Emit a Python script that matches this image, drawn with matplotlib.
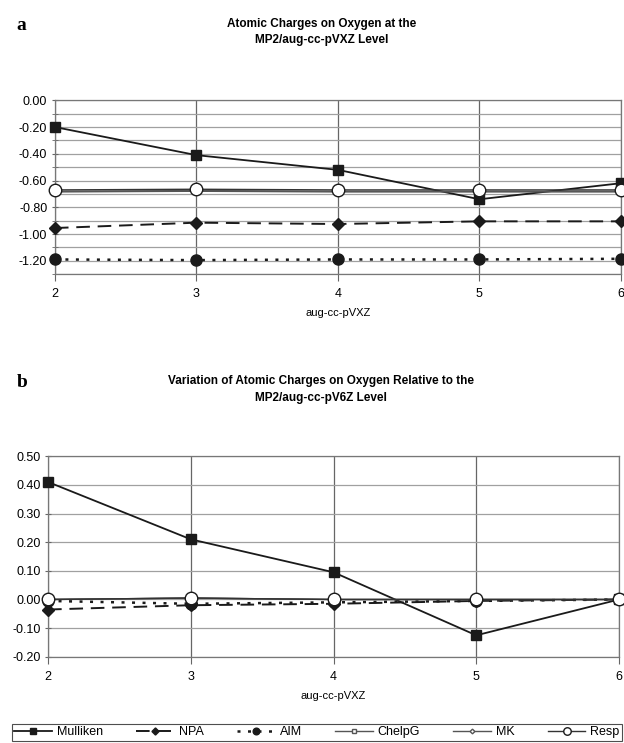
import matplotlib
matplotlib.use("Agg")
import matplotlib.pyplot as plt
from matplotlib.ticker import MultipleLocator

plt.rcParams["font.family"] = ["Liberation Sans", "DejaVu Sans"]

basis = [2, 3, 4, 5, 6]

# panel a: atomic charges on oxygen
mulliken_a = [-0.20, -0.41, -0.52, -0.74, -0.62]
npa_a = [-0.955, -0.915, -0.925, -0.905, -0.905]
aim_a = [-1.19, -1.195, -1.19, -1.19, -1.185]
chelpg_a = [-0.685, -0.68, -0.685, -0.685, -0.685]
mk_a = [-0.68, -0.675, -0.68, -0.68, -0.68]
resp_a = [-0.67, -0.665, -0.67, -0.67, -0.67]

# panel b: variation relative to aug-cc-pV6Z
mulliken_b = [0.41, 0.21, 0.095, -0.125, 0.0]
npa_b = [-0.035, -0.02, -0.015, -0.005, 0.0]
aim_b = [-0.005, -0.015, -0.01, -0.005, 0.0]
chelpg_b = [0.0, 0.005, 0.0, 0.0, 0.0]
mk_b = [0.0, 0.005, 0.0, 0.0, 0.0]
resp_b = [0.0, 0.005, 0.0, 0.0, 0.0]

labels = ["Mulliken", "NPA", "AIM", "ChelpG", "MK", "Resp"]

styles = [
    dict(color="#1a1a1a", lw=1.3, ls="-", marker="s", ms=7, mfc="#1a1a1a"),
    dict(color="#1a1a1a", lw=1.4, ls=(0, (7, 4)), marker="D", ms=6, mfc="#1a1a1a"),
    dict(color="#1a1a1a", lw=1.8, ls=(0, (1.2, 3)), marker="o", ms=8, mfc="#1a1a1a"),
    dict(color="#555555", lw=1.0, ls="-", marker="s", ms=4, mfc="white"),
    dict(color="#555555", lw=1.0, ls="-", marker="D", ms=4, mfc="white"),
    dict(color="#333333", lw=1.0, ls="-", marker="o", ms=9, mfc="white", mec="#1a1a1a"),
]


def draw(ax, series, ymin, ymax):
    lines = []
    for vals, lab, st in zip(series, labels, styles):
        (ln,) = ax.plot(basis, vals, label=lab, clip_on=False, zorder=3, **st)
        lines.append(ln)
    ax.set_xlim(2, 6)
    ax.set_ylim(ymin, ymax)
    ax.set_xticks(basis)
    ax.yaxis.set_minor_locator(MultipleLocator(0.1))
    ax.yaxis.grid(True, which="both", color="#a0a0a0", lw=0.9)
    ax.xaxis.grid(True, color="#666666", lw=0.9)
    ax.tick_params(axis="x", length=5, color="#666666", labelsize=9, pad=5)
    ax.tick_params(axis="y", which="both", length=5, direction="inout",
                   labelsize=9, color="#666666", pad=3)
    ax.set_xlabel("aug-cc-pVXZ", fontsize=8, labelpad=6)
    for sp in ax.spines.values():
        sp.set_color("#777777")
        sp.set_linewidth(0.9)
    return lines


fig = plt.figure(figsize=(6.24, 7.43), dpi=100)

ax_a = fig.add_axes([0.088, 0.631, 0.907, 0.234])
draw(ax_a, [mulliken_a, npa_a, aim_a, chelpg_a, mk_a, resp_a], -1.30, 0.0)
ax_a.set_yticks([0.0, -0.2, -0.4, -0.6, -0.8, -1.0, -1.2])
ax_a.set_yticklabels(["0.00", "-0.20", "-0.40", "-0.60", "-0.80", "-1.00", "-1.20"])

ax_b = fig.add_axes([0.077, 0.116, 0.915, 0.270])
lines = draw(ax_b, [mulliken_b, npa_b, aim_b, chelpg_b, mk_b, resp_b], -0.20, 0.50)
bt = [0.5, 0.4, 0.3, 0.2, 0.1, 0.0, -0.1, -0.2]
ax_b.set_yticks(bt)
ax_b.set_yticklabels([f"{v:.2f}" for v in bt])

fig.text(0.515, 0.957, "Atomic Charges on Oxygen at the\nMP2/aug-cc-pVXZ Level",
         ha="center", va="center", fontsize=8.5, fontweight="bold", linespacing=1.5)
fig.text(0.027, 0.966, "a", fontsize=14, fontweight="bold", family="Liberation Serif",
         va="center")
fig.text(0.515, 0.476, "Variation of Atomic Charges on Oxygen Relative to the\nMP2/aug-cc-pV6Z Level",
         ha="center", va="center", fontsize=8.5, fontweight="bold", linespacing=1.5)
fig.text(0.027, 0.485, "b", fontsize=14, fontweight="bold", family="Liberation Serif",
         va="center")

leg = fig.legend(handles=lines, loc="lower left", bbox_to_anchor=(0.019, 0.003, 0.978, 0.026),
                 mode="expand", ncol=6, fontsize=9, frameon=True, fancybox=False,
                 handlelength=3, handletextpad=0.4, borderpad=0.2, columnspacing=1.0,
                 markerscale=0.6, borderaxespad=0)
leg.get_frame().set_edgecolor("#222222")
leg.get_frame().set_linewidth(0.8)

fig.savefig("out.png", dpi=100)
